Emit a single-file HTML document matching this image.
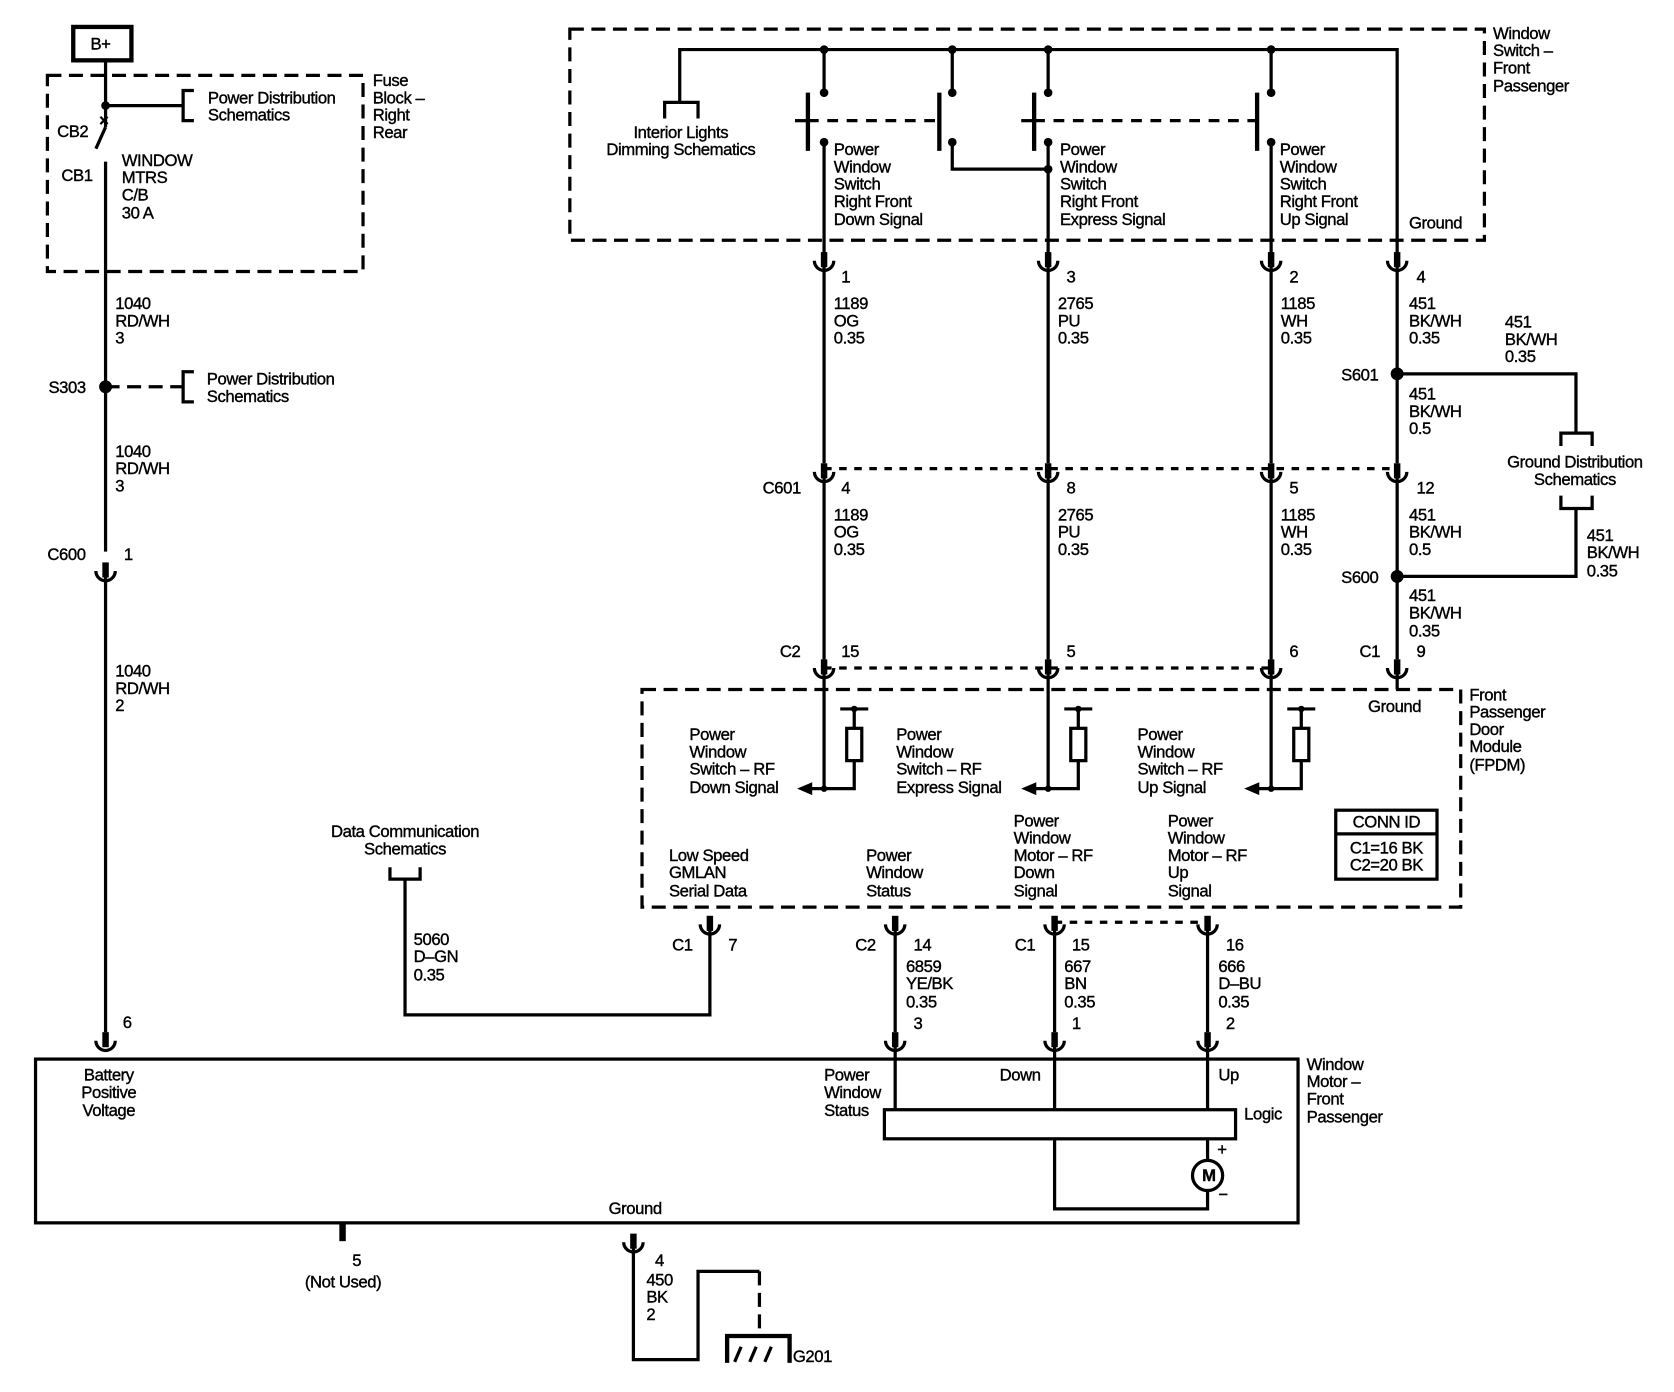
<!DOCTYPE html>
<html><head><meta charset="utf-8"><style>
html,body{margin:0;padding:0;background:#fff;}
svg{display:block;}
text{font-family:"Liberation Sans",Arial,sans-serif;font-size:15.5px;fill:#000;stroke:#000;stroke-width:0.35px;letter-spacing:-0.4px;}
</style></head><body>
<svg width="1674" height="1392" viewBox="0 0 1554 1292" preserveAspectRatio="none" xmlns="http://www.w3.org/2000/svg">
<defs>
<g id="cup"><line x1="0" y1="-16" x2="0" y2="-2" stroke="#000" stroke-width="6"/><path d="M-9,-8 A9,9 0 0 0 9,-8" fill="none" stroke="#000" stroke-width="3"/></g>
</defs>
<g fill="none" stroke="#000" stroke-width="3">
<rect x="68" y="25" width="54" height="31" stroke-width="4"/>
<rect x="44" y="70" width="293" height="182" stroke-dasharray="13,7"/>
<line x1="98" y1="56" x2="98" y2="118"/>
<line x1="98" y1="118" x2="89" y2="138"/>
<line x1="98" y1="150" x2="98" y2="512"/>
<line x1="98" y1="98" x2="170" y2="98"/>
<polyline points="180,84 170,84 170,112 180,112"/>
<line x1="98" y1="359" x2="170" y2="359" stroke-dasharray="13,7"/>
<polyline points="180,345 170,345 170,373 180,373"/>
<line x1="98" y1="530" x2="98" y2="958"/>
<rect x="529" y="27" width="849" height="196" stroke-dasharray="13,7"/>
<polyline points="631,95 631,46 1297,46 1297,235"/>
<polyline points="617,110 617,95 648,95 648,110"/>
<line x1="765" y1="46" x2="765" y2="86"/><line x1="884" y1="46" x2="884" y2="86"/>
<line x1="973" y1="46" x2="973" y2="86"/><line x1="1180" y1="46" x2="1180" y2="86"/>
<line x1="750" y1="86" x2="750" y2="140" stroke-width="4"/><line x1="872" y1="86" x2="872" y2="140" stroke-width="4"/>
<line x1="960" y1="86" x2="960" y2="140" stroke-width="4"/><line x1="1167" y1="86" x2="1167" y2="140" stroke-width="4"/>
<line x1="738" y1="112" x2="750" y2="112"/><line x1="750" y1="112" x2="872" y2="112" stroke-dasharray="10,8"/>
<line x1="948" y1="112" x2="960" y2="112"/><line x1="960" y1="112" x2="1167" y2="112" stroke-dasharray="10,8"/>
<polyline points="884,132 884,157 973,157"/>
<line x1="765" y1="132" x2="765" y2="235"/><line x1="973" y1="132" x2="973" y2="235"/><line x1="1180" y1="132" x2="1180" y2="235"/>
<line x1="765" y1="243" x2="765" y2="430"/><line x1="973" y1="243" x2="973" y2="430"/>
<line x1="1180" y1="243" x2="1180" y2="430"/><line x1="1297" y1="243" x2="1297" y2="430"/>
<polyline points="1297,347 1463,347 1463,402"/>
<polyline points="1449,414 1449,402 1478,402 1478,414"/>
<polyline points="1449,460 1449,472 1478,472 1478,460"/>
<polyline points="1463,472 1463,535 1297,535"/>
<line x1="765" y1="435" x2="1297" y2="435" stroke-dasharray="7,7"/>
<line x1="765" y1="439" x2="765" y2="612"/><line x1="973" y1="439" x2="973" y2="612"/>
<line x1="1180" y1="439" x2="1180" y2="612"/><line x1="1297" y1="439" x2="1297" y2="612"/>
<line x1="765" y1="620" x2="1180" y2="620" stroke-dasharray="7,7"/>
<rect x="596" y="640" width="760" height="202" stroke-dasharray="13,7"/>
<line x1="1297" y1="622" x2="1297" y2="640"/>
<g id="res">
<line x1="765" y1="622" x2="765" y2="732"/>
<line x1="780" y1="658" x2="806" y2="658"/>
<polyline points="793,658 793,676"/>
<rect x="786" y="676" width="14" height="30"/>
<polyline points="793,706 793,732 752,732"/>
</g>
<use href="#res" x="208"/><use href="#res" x="415"/>
<rect x="1240" y="752" width="94" height="64"/>
<line x1="1240" y1="774" x2="1334" y2="774"/>
<polyline points="659,860 659,942 376,942 376,816"/>
<polyline points="362,805 362,816 390,816 390,805"/>
<line x1="831" y1="860" x2="831" y2="958"/><line x1="979" y1="860" x2="979" y2="958"/><line x1="1121" y1="860" x2="1121" y2="958"/>
<line x1="979" y1="856" x2="1121" y2="856" stroke-dasharray="7,7"/>
<rect x="33" y="983" width="1172" height="152"/>
<line x1="831" y1="968" x2="831" y2="1030"/><line x1="979" y1="968" x2="979" y2="1030"/><line x1="1121" y1="968" x2="1121" y2="1030"/>
<rect x="821" y="1030" width="326" height="27"/>
<polyline points="979,1057 979,1122 1121,1122 1121,1105"/>
<line x1="1121" y1="1057" x2="1121" y2="1077"/>
<circle cx="1121" cy="1091" r="14"/>
<line x1="318" y1="1135" x2="318" y2="1152" stroke-width="6"/>
<polyline points="588,1153 588,1262 648,1262 648,1180 705,1180"/>
<line x1="705" y1="1180" x2="705" y2="1240" stroke-dasharray="13,7"/>
<polyline points="675,1265 675,1240 733,1240 733,1265" stroke-width="4"/>
<line x1="688" y1="1250" x2="682" y2="1264"/><line x1="702" y1="1250" x2="696" y2="1264"/><line x1="716" y1="1250" x2="710" y2="1264"/>
</g>
<g fill="#000">
<circle cx="98" cy="98" r="4"/><circle cx="98" cy="359" r="6"/>
<circle cx="765" cy="46" r="4"/><circle cx="884" cy="46" r="4"/><circle cx="973" cy="46" r="4"/><circle cx="1180" cy="46" r="4"/>
<circle cx="765" cy="86" r="4"/><circle cx="884" cy="86" r="4"/><circle cx="973" cy="86" r="4"/><circle cx="1180" cy="86" r="4"/>
<circle cx="765" cy="132" r="4"/><circle cx="884" cy="132" r="4"/><circle cx="973" cy="132" r="4"/><circle cx="1180" cy="132" r="4"/>
<circle cx="973" cy="157" r="4"/>
<circle cx="1297" cy="347" r="6"/><circle cx="1297" cy="535" r="6"/>
<circle cx="793" cy="658" r="3"/><circle cx="1001" cy="658" r="3"/><circle cx="1208" cy="658" r="3"/>
<circle cx="765" cy="732" r="3"/><circle cx="973" cy="732" r="3"/><circle cx="1180" cy="732" r="3"/>
<polygon points="740,732 754,726 754,738"/><polygon points="948,732 962,726 962,738"/><polygon points="1155,732 1169,726 1169,738"/>
</g>
<text x="92" y="117" font-size="18" font-weight="bold">×</text>
<use href="#cup" x="765" y="250"/><use href="#cup" x="973" y="250"/><use href="#cup" x="1180" y="250"/><use href="#cup" x="1297" y="250"/>
<use href="#cup" x="765" y="446"/><use href="#cup" x="973" y="446"/><use href="#cup" x="1180" y="446"/><use href="#cup" x="1297" y="446"/>
<use href="#cup" x="765" y="628"/><use href="#cup" x="973" y="628"/><use href="#cup" x="1180" y="628"/><use href="#cup" x="1297" y="628"/>
<use href="#cup" x="98" y="538"/>
<use href="#cup" x="659" y="866"/><use href="#cup" x="831" y="866"/><use href="#cup" x="979" y="866"/><use href="#cup" x="1121" y="866"/>
<use href="#cup" x="98" y="974"/><use href="#cup" x="831" y="974"/><use href="#cup" x="979" y="974"/><use href="#cup" x="1121" y="974"/>
<use href="#cup" x="588" y="1161"/>
<text x="84" y="46">B+</text>
<text x="193" y="96">Power Distribution</text><text x="193" y="112">Schematics</text>
<text x="346" y="80">Fuse</text><text x="346" y="96">Block –</text><text x="346" y="112">Right</text><text x="346" y="128">Rear</text>
<text x="53" y="127">CB2</text><text x="57" y="168">CB1</text>
<text x="113" y="154">WINDOW</text><text x="113" y="170">MTRS</text><text x="113" y="186">C/B</text><text x="113" y="203">30 A</text>
<text x="107" y="287">1040</text><text x="107" y="303">RD/WH</text><text x="107" y="319">3</text>
<text x="45" y="365">S303</text>
<text x="192" y="357">Power Distribution</text><text x="192" y="373">Schematics</text>
<text x="107" y="424">1040</text><text x="107" y="440">RD/WH</text><text x="107" y="456">3</text>
<text x="44" y="520">C600</text><text x="115" y="520">1</text>
<text x="107" y="628">1040</text><text x="107" y="644">RD/WH</text><text x="107" y="660">2</text>
<text x="114" y="954">6</text>
<text x="632" y="128" text-anchor="middle">Interior Lights</text><text x="632" y="144" text-anchor="middle">Dimming Schematics</text>
<text x="774" y="144">Power</text><text x="774" y="160">Window</text><text x="774" y="176">Switch</text><text x="774" y="192">Right Front</text><text x="774" y="209">Down Signal</text>
<text x="984" y="144">Power</text><text x="984" y="160">Window</text><text x="984" y="176">Switch</text><text x="984" y="192">Right Front</text><text x="984" y="209">Express Signal</text>
<text x="1188" y="144">Power</text><text x="1188" y="160">Window</text><text x="1188" y="176">Switch</text><text x="1188" y="192">Right Front</text><text x="1188" y="209">Up Signal</text>
<text x="1308" y="212">Ground</text>
<text x="1386" y="36">Window</text><text x="1386" y="52">Switch –</text><text x="1386" y="68">Front</text><text x="1386" y="85">Passenger</text>
<text x="781" y="262">1</text><text x="990" y="262">3</text><text x="1197" y="262">2</text><text x="1315" y="262">4</text>
<text x="774" y="287">1189</text><text x="774" y="303">OG</text><text x="774" y="319">0.35</text>
<text x="982" y="287">2765</text><text x="982" y="303">PU</text><text x="982" y="319">0.35</text>
<text x="1189" y="287">1185</text><text x="1189" y="303">WH</text><text x="1189" y="319">0.35</text>
<text x="1308" y="287">451</text><text x="1308" y="303">BK/WH</text><text x="1308" y="319">0.35</text>
<text x="1397" y="304">451</text><text x="1397" y="320">BK/WH</text><text x="1397" y="336">0.35</text>
<text x="1245" y="353">S601</text>
<text x="1308" y="371">451</text><text x="1308" y="387">BK/WH</text><text x="1308" y="403">0.5</text>
<text x="1462" y="434" text-anchor="middle">Ground Distribution</text><text x="1462" y="450" text-anchor="middle">Schematics</text>
<text x="708" y="458">C601</text>
<text x="781" y="458">4</text><text x="990" y="458">8</text><text x="1197" y="458">5</text><text x="1315" y="458">12</text>
<text x="774" y="483">1189</text><text x="774" y="499">OG</text><text x="774" y="515">0.35</text>
<text x="982" y="483">2765</text><text x="982" y="499">PU</text><text x="982" y="515">0.35</text>
<text x="1189" y="483">1185</text><text x="1189" y="499">WH</text><text x="1189" y="515">0.35</text>
<text x="1308" y="483">451</text><text x="1308" y="499">BK/WH</text><text x="1308" y="515">0.5</text>
<text x="1473" y="502">451</text><text x="1473" y="518">BK/WH</text><text x="1473" y="535">0.35</text>
<text x="1245" y="541">S600</text>
<text x="1308" y="558">451</text><text x="1308" y="574">BK/WH</text><text x="1308" y="591">0.35</text>
<text x="724" y="610">C2</text><text x="781" y="610">15</text><text x="990" y="610">5</text><text x="1197" y="610">6</text>
<text x="1262" y="610">C1</text><text x="1315" y="610">9</text>
<text x="1270" y="661">Ground</text>
<text x="1364" y="650">Front</text><text x="1364" y="666">Passenger</text><text x="1364" y="682">Door</text><text x="1364" y="698">Module</text><text x="1364" y="715">(FPDM)</text>
<text x="640" y="687">Power</text><text x="640" y="703">Window</text><text x="640" y="719">Switch – RF</text><text x="640" y="736">Down Signal</text>
<text x="832" y="687">Power</text><text x="832" y="703">Window</text><text x="832" y="719">Switch – RF</text><text x="832" y="736">Express Signal</text>
<text x="1056" y="687">Power</text><text x="1056" y="703">Window</text><text x="1056" y="719">Switch – RF</text><text x="1056" y="736">Up Signal</text>
<text x="1287" y="768" text-anchor="middle">CONN ID</text>
<text x="1287" y="792" text-anchor="middle">C1=16 BK</text><text x="1287" y="808" text-anchor="middle">C2=20 BK</text>
<text x="941" y="767">Power</text><text x="941" y="783">Window</text><text x="941" y="799">Motor – RF</text><text x="941" y="815">Down</text><text x="941" y="832">Signal</text>
<text x="1084" y="767">Power</text><text x="1084" y="783">Window</text><text x="1084" y="799">Motor – RF</text><text x="1084" y="815">Up</text><text x="1084" y="832">Signal</text>
<text x="621" y="799">Low Speed</text><text x="621" y="815">GMLAN</text><text x="621" y="832">Serial Data</text>
<text x="804" y="799">Power</text><text x="804" y="815">Window</text><text x="804" y="832">Status</text>
<text x="376" y="777" text-anchor="middle">Data Communication</text><text x="376" y="793" text-anchor="middle">Schematics</text>
<text x="624" y="882">C1</text><text x="676" y="882">7</text><text x="794" y="882">C2</text><text x="848" y="882">14</text>
<text x="942" y="882">C1</text><text x="995" y="882">15</text><text x="1138" y="882">16</text>
<text x="384" y="877">5060</text><text x="384" y="893">D–GN</text><text x="384" y="910">0.35</text>
<text x="841" y="902">6859</text><text x="841" y="918">YE/BK</text><text x="841" y="935">0.35</text>
<text x="988" y="902">667</text><text x="988" y="918">BN</text><text x="988" y="935">0.35</text>
<text x="1131" y="902">666</text><text x="1131" y="918">D–BU</text><text x="1131" y="935">0.35</text>
<text x="848" y="955">3</text><text x="995" y="955">1</text><text x="1138" y="955">2</text>
<text x="1213" y="993">Window</text><text x="1213" y="1009">Motor –</text><text x="1213" y="1025">Front</text><text x="1213" y="1042">Passenger</text>
<text x="101" y="1003" text-anchor="middle">Battery</text><text x="101" y="1019" text-anchor="middle">Positive</text><text x="101" y="1036" text-anchor="middle">Voltage</text>
<text x="765" y="1003">Power</text><text x="765" y="1019">Window</text><text x="765" y="1036">Status</text>
<text x="928" y="1003">Down</text><text x="1131" y="1003">Up</text><text x="1155" y="1039">Logic</text>
<text x="1116" y="1096" font-weight="bold" font-size="13">M</text>
<text x="1130" y="1072">+</text><text x="1131" y="1114">−</text>
<text x="565" y="1127">Ground</text>
<text x="327" y="1175">5</text><text x="283" y="1195">(Not Used)</text>
<text x="608" y="1175">4</text><text x="600" y="1193">450</text><text x="600" y="1209">BK</text><text x="600" y="1225">2</text>
<text x="736" y="1264">G201</text>
</svg>
</body></html>
